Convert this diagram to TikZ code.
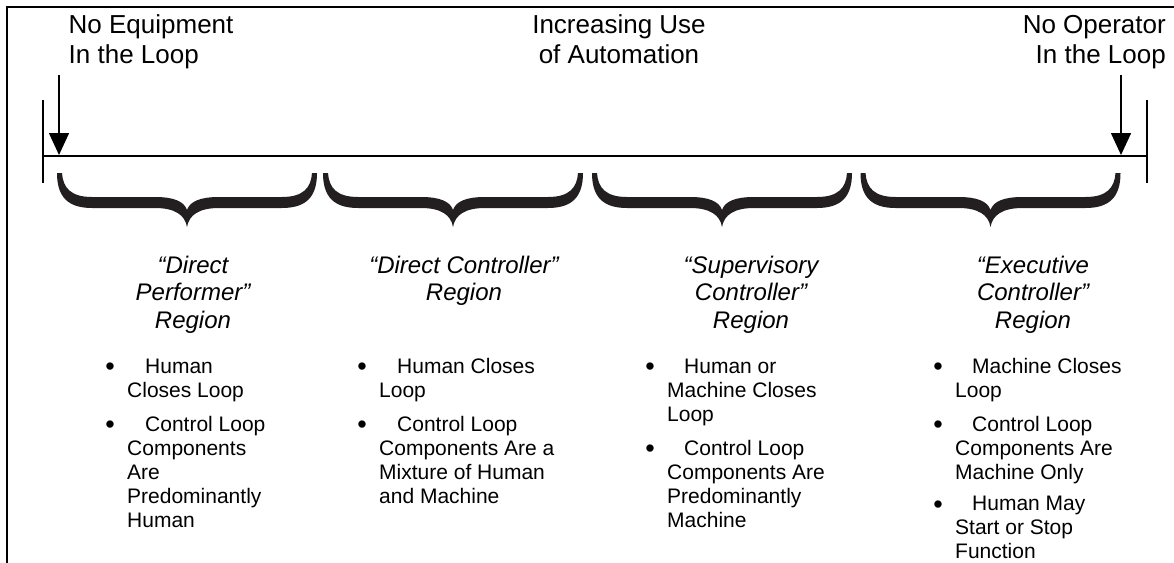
\documentclass[tikz,border=0pt]{standalone}
\usepackage{fontspec}
\setmainfont{Liberation Sans}
\usetikzlibrary{arrows.meta}
\definecolor{bracecol}{HTML}{231F20}
\begin{document}
\begin{tikzpicture}[x=1pt,y=-1pt,
  frame/.style={line width=2.5pt},
  axisline/.style={line width=2pt},
  pointer/.style={line width=1.5pt,-{Triangle[width=20pt,length=22pt]}},
  toplbl/.style={font=\fontsize{26}{30}\selectfont, inner sep=0pt},
  head/.style={font=\fontsize{24}{27.5}\selectfont\itshape, inner sep=0pt, align=center, anchor=base},
  item/.style={font=\fontsize{21}{24}\selectfont, inner sep=0pt, align=left, anchor=base west},
  bul/.style={font=\fontsize{27}{30}\selectfont, inner sep=0pt, anchor=base, yshift=-2pt},
  brace/.pic={
    \fill[bracecol] (-130,0) .. controls (-130,24) and (-119,35) .. (-95,35) -- (-32,35)
      .. controls (-12,35) and (-2,42) .. (0,54)
      .. controls (2,42) and (12,35) .. (32,35) -- (95,35)
      .. controls (119,35) and (130,24) .. (130,0) -- (125,0)
      .. controls (124,15) and (116,24) .. (95,24) -- (32,24)
      .. controls (14,24) and (3,28) .. (0,37)
      .. controls (-3,28) and (-14,24) .. (-32,24) -- (-95,24)
      .. controls (-116,24) and (-124,15) .. (-125,0) -- cycle;
  }]
\useasboundingbox (0,0) rectangle (1174,562);

% frame (left and top edges only)
\coordinate (fBL) at (7,565);
\coordinate (fTL) at (7,7);
\coordinate (fTR) at (1177,7);
\draw[frame] (fBL) -- (fTL) -- (fTR);

% top labels (anchor = baseline of last line)
\node[toplbl, align=left, anchor=base west] (lblL) at (68.5,63) {No Equipment\\In the Loop};
\node[toplbl, align=center, anchor=base] (lblC) at (619,63) {Increasing Use\\of Automation};
\node[toplbl, align=right, anchor=base east] (lblR) at (1166,63) {No Operator\\In the Loop};

% axis
\coordinate (ax0) at (43,155.5);
\coordinate (ax1) at (1147,155.5);
\draw[axisline] (ax0) -- (ax1);
\coordinate (tL0) at (43,100);
\coordinate (tL1) at (43,183);
\coordinate (tR0) at (1147,100);
\coordinate (tR1) at (1147,183);
\draw[axisline] (tL0) -- (tL1);
\draw[axisline] (tR0) -- (tR1);

% arrows
\coordinate (aL0) at (59,75);
\coordinate (aL1) at (59,155);
\coordinate (aR0) at (1121,75);
\coordinate (aR1) at (1121,155);
\draw[pointer] (aL0) -- (aL1);
\draw[pointer] (aR0) -- (aR1);

% braces
\pic at (187,173) {brace};
\pic at (453,173) {brace};
\pic at (722,173) {brace};
\pic at (990.5,173) {brace};

% headings (anchor = baseline of last line)
\node[head] (h1) at (193,328) {“Direct\\Performer”\\Region};
\node[head] (h2) at (464,300.5) {“Direct Controller”\\Region};
\node[head] (h3) at (751,328) {“Supervisory\\Controller”\\Region};
\node[head] (h4) at (1033,328) {“Executive\\Controller”\\Region};

% column 1
\node[bul] (b11) at (110,373) {•};
\node[item] (c11) at (127,397) {\hspace*{18pt}Human\\Closes Loop};
\node[bul] (b12) at (110,431) {•};
\node[item] (c12) at (127,527) {\hspace*{18pt}Control Loop\\Components\\Are\\Predominantly\\Human};

% column 2
\node[bul] (b21) at (362,373) {•};
\node[item] (c21) at (379,397) {\hspace*{18pt}Human Closes\\Loop};
\node[bul] (b22) at (362,431) {•};
\node[item] (c22) at (379,503) {\hspace*{18pt}Control Loop\\Components Are a\\Mixture of Human\\and Machine};

% column 3
\node[bul] (b31) at (650,373) {•};
\node[item] (c31) at (667,421) {\hspace*{17pt}Human or\\Machine Closes\\Loop};
\node[bul] (b32) at (650,455) {•};
\node[item] (c32) at (667,527) {\hspace*{17pt}Control Loop\\Components Are\\Predominantly\\Machine};

% column 4
\node[bul] (b41) at (938,373) {•};
\node[item] (c41) at (955,397) {\hspace*{17pt}Machine Closes\\Loop};
\node[bul] (b42) at (938,431) {•};
\node[item] (c42) at (955,479) {\hspace*{17pt}Control Loop\\Components Are\\Machine Only};
\node[bul] (b43) at (938,511) {•};
\node[item] (c43) at (955,558) {\hspace*{17pt}Human May\\Start or Stop\\Function};
\end{tikzpicture}
\end{document}
